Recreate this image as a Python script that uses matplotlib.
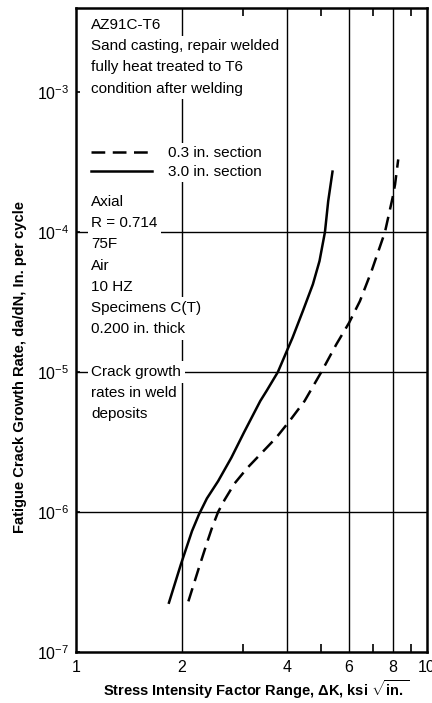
import matplotlib
matplotlib.use('Agg')
import matplotlib.pyplot as plt
from matplotlib.ticker import FixedLocator, NullFormatter

plt.rcParams['font.family'] = ['Liberation Sans', 'DejaVu Sans']
plt.rcParams['mathtext.fontset'] = 'custom'
plt.rcParams['mathtext.rm'] = 'Liberation Sans'
plt.rcParams['mathtext.bf'] = 'Liberation Sans:bold'
plt.rcParams['mathtext.default'] = 'regular'

# 3.0 in. section (solid)
dk_thick = [1.84, 1.99, 2.14, 2.24, 2.36, 2.54, 2.77, 3.01, 3.35, 3.49, 3.76, 4.0,
            4.14, 4.43, 4.73, 4.94, 5.12, 5.23, 5.38]
rate_thick = [2.25e-7, 4.23e-7, 7.3e-7, 9.6e-7, 1.25e-6, 1.66e-6, 2.44e-6, 3.7e-6,
              6.21e-6, 7.32e-6, 1.0e-5, 1.44e-5, 1.76e-5, 2.73e-5, 4.23e-5, 6.2e-5,
              1.0e-4, 1.66e-4, 2.7e-4]
# 0.3 in. section (dashed)
dk_thin = [2.09, 2.24, 2.38, 2.44, 2.54, 2.65, 2.83, 3.08, 3.35, 3.72, 4.06, 4.48,
           5.0, 5.52, 6.0, 6.44, 6.95, 7.59, 7.98, 8.11, 8.28]
rate_thin = [2.3e-7, 4.0e-7, 6.4e-7, 7.7e-7, 1.0e-6, 1.22e-6, 1.6e-6, 2.07e-6,
             2.58e-6, 3.4e-6, 4.47e-6, 6.21e-6, 1.0e-5, 1.58e-5, 2.25e-5, 3.21e-5,
             5.26e-5, 1.0e-4, 1.76e-4, 2.19e-4, 3.3e-4]

x_ticks = [1, 2, 4, 6, 8, 10]
x_minor = [3, 5, 7, 9]
y_ticks = [1e-7, 1e-6, 1e-5, 1e-4, 1e-3]
y_labels = ['$10^{-7}$', '$10^{-6}$', '$10^{-5}$', '$10^{-4}$', '$10^{-3}$']

block1 = ['AZ91C-T6', 'Sand casting, repair welded', 'fully heat treated to T6',
          'condition after welding']
block2 = ['Axial', 'R = 0.714', '75F', 'Air', '10 HZ', 'Specimens C(T)', '0.200 in. thick']
block3 = ['Crack growth', 'rates in weld', 'deposits']

fig = plt.figure(figsize=(4.32, 7.03), dpi=100)
ax = fig.add_axes([76/432, 1-652/703, 351/432, 644/703])
ax.set_xscale('log')
ax.set_yscale('log')
ax.set_xlim(1, 10)
ax.set_ylim(1e-7, 10**-2.4)

for s in ax.spines.values():
    s.set_linewidth(1.8)

# grid lines
for xv in [2, 4, 6, 8]:
    ax.axvline(xv, color='black', lw=1.0, zorder=1)
for yv in [1e-6, 1e-5, 1e-4]:
    ax.axhline(yv, color='black', lw=1.0, zorder=1)

ax.plot(dk_thin, rate_thin, color='black', lw=1.8, ls=(0, (5.5, 3)), zorder=3,
        label='0.3 in. section')
ax.plot(dk_thick, rate_thick, color='black', lw=1.8, zorder=3, label='3.0 in. section')

ax.xaxis.set_major_locator(FixedLocator(x_ticks))
ax.set_xticklabels([str(v) for v in x_ticks])
ax.xaxis.set_minor_locator(FixedLocator(x_minor))
ax.xaxis.set_minor_formatter(NullFormatter())
ax.yaxis.set_major_locator(FixedLocator(y_ticks))
ax.set_yticklabels(y_labels)
ax.yaxis.set_minor_locator(FixedLocator([]))
ax.tick_params(axis='both', which='both', direction='in', top=True, width=1.2, labelsize=11.5)
ax.tick_params(axis='x', which='major', length=0, pad=6)
ax.tick_params(axis='x', which='minor', length=6)
ax.tick_params(axis='y', which='major', length=3, pad=5)

# text blocks with white backgrounds hiding the grid
def put_block(lines, x0, y0, step):
    for i, t in enumerate(lines):
        ax.text(x0, y0 - i * step, t, transform=ax.transAxes, fontsize=11,
                va='center', ha='left', zorder=4,
                bbox=dict(facecolor='white', edgecolor='none', pad=2.5))

step = 21.2 / 644
put_block(block1, 0.044, (652 - 25) / 644, step)
put_block(block2, 0.044, (652 - 202) / 644, step)
put_block(block3, 0.044, (652 - 372) / 644, step)

leg = ax.legend(loc='upper left', bbox_to_anchor=(0.035, (652 - 143) / 644), frameon=True,
                fontsize=11, handlelength=4.0, handletextpad=1.0, labelspacing=0.35,
                borderpad=0.2, borderaxespad=0)
leg.get_frame().set_facecolor('white')
leg.get_frame().set_edgecolor('none')
leg.get_frame().set_alpha(1)
leg.set_zorder(5)

fig.text(20/432, 1-367/703, 'Fatigue Crack Growth Rate, da/dN, In. per cycle',
         rotation=90, ha='center', va='center', fontsize=10.6, fontweight='bold')
fig.text(256/432, 1-690/703, 'Stress Intensity Factor Range, $\\Delta$K, ksi $\\sqrt{in.}$',
         ha='center', va='center', fontsize=10.5, fontweight='bold')

fig.savefig('out.png', dpi=100)
